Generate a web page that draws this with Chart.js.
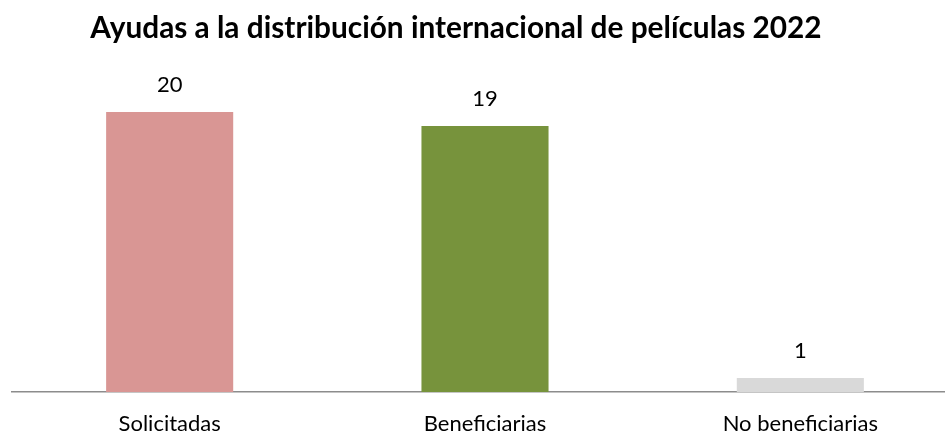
<!DOCTYPE html>
<html>
<head>
<meta charset="utf-8">
<script src="https://cdn.jsdelivr.net/npm/chart.js@4"></script>
<style>
  html, body { margin: 0; padding: 0; background: #fff; overflow: hidden; }
  #wrap { width: 960px; height: 432px; }
</style>
</head>
<body>
<div id="wrap"><canvas id="barChart" width="960" height="432"></canvas></div>
<script>
"use strict";
// Datos del gráfico
const categorias = ["Solicitadas", "Beneficiarias", "No beneficiarias"];
const valores = [20, 19, 1];
const colores = ["#D99694", "#77933C", "#D9D9D9"];
const titulo = "Ayudas a la distribución internacional de películas 2022";

// Etiquetas con el valor encima de cada barra
const etiquetasPlugin = {
    id: "etiquetas",
    afterDatasetsDraw(chart) {
        const ctx = chart.ctx;
        const meta = chart.getDatasetMeta(0);
        ctx.save();
        ctx.font = "22px Lato";
        ctx.fillStyle = "#000";
        ctx.textAlign = "center";
        ctx.textBaseline = "middle";
        meta.data.forEach((bar, i) => {
            ctx.fillText(valores[i], bar.x, bar.y - 27);
        });
        ctx.restore();
    }
};

// Título dibujado a mano (centrado como en la imagen, no en el canvas ancho)
const tituloPlugin = {
    id: "tituloManual",
    afterDraw(chart) {
        const ctx = chart.ctx;
        ctx.save();
        ctx.font = "bold 29.8px Lato";
        ctx.fillStyle = "#000";
        ctx.textAlign = "center";
        ctx.textBaseline = "alphabetic";
        ctx.fillText(titulo, 456, 38);
        ctx.restore();
    }
};

const ctx = document.getElementById("barChart");
new Chart(ctx, {
    type: "bar",
    data: {
        labels: categorias,
        datasets: [{
            data: valores,
            backgroundColor: colores,
            barPercentage: 0.403,
            categoryPercentage: 1
        }]
    },
    options: {
        responsive: false,
        animation: false,
        layout: { padding: { left: 12, right: 2, top: 112 } },
        plugins: {
            legend: { display: false },
            tooltip: { enabled: false },
            title: { display: false }
        },
        scales: {
            x: {
                grid: { display: false, drawTicks: false },
                border: { color: "#8c8c8c", width: 1.5 },
                ticks: { color: "#000", font: { family: "Lato", size: 22 }, padding: 19 },
                // altura fija del eje para que la línea base quede en y=392
                afterFit(scale) { scale.height = 40; }
            },
            y: {
                display: false,
                min: 0,
                max: 20
            }
        }
    },
    plugins: [etiquetasPlugin, tituloPlugin]
});
</script>
</body>
</html>
